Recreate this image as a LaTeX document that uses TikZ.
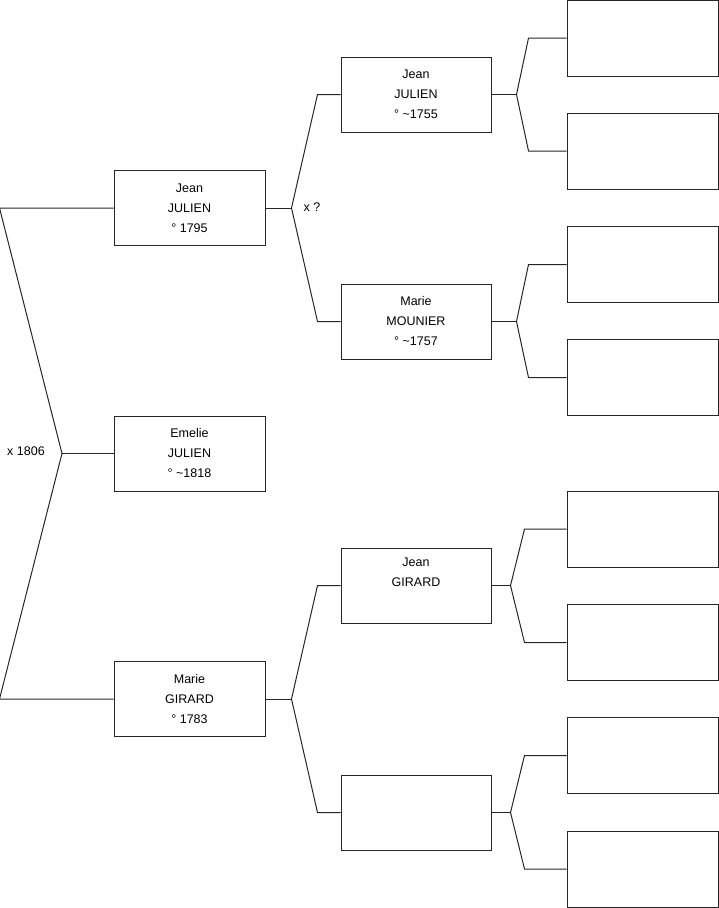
\documentclass[tikz,border=0pt]{standalone}
\usepackage{fontspec}
\setmainfont{Liberation Sans}
\usepackage{tikz}
\usetikzlibrary{positioning}
\tikzset{
  person/.style={draw=black!85,line width=1pt,fill=white,minimum width=151pt,
    minimum height=75pt,inner sep=0pt,align=center,
    font=\fontsize{12.5}{20}\selectfont},
  link/.style={draw=black!85,line width=1pt},
  wed/.style={font=\fontsize{12.5}{14}\selectfont,inner sep=0pt}
}
\begin{document}
\begin{tikzpicture}[x=1pt,y=-1pt]
  \useasboundingbox (0,0) rectangle (719,908);
  % child
  \node[person] (emelie) at (189.5,453.5) {Emelie\\JULIEN\\° \textasciitilde1818};
  % parents
  \node[person] (pere) at (189.5,208) {Jean\\JULIEN\\° 1795};
  \node[person] (mere) at (189.5,699) {Marie\\GIRARD\\° 1783};
  % grandparents
  \node[person,minimum width=150pt] (gpp) at (416,94.5) {Jean\\JULIEN\\° \textasciitilde1755};
  \node[person,minimum width=150pt] (gmp) at (416,321.5) {Marie\\MOUNIER\\° \textasciitilde1757};
  \node[person,minimum width=150pt] (gpm) at (416,585.5) {Jean\\GIRARD\\\strut};
  \node[person,minimum width=150pt] (gmm) at (416,812.5) {};
  % great-grandparents
  \foreach \i/\y in {1/38,2/151,3/264.5,4/377.5,5/529,6/642.5,7/755.5,8/869}
    \node[person,minimum height=76pt] (ag\i) at (642.5,\y) {};

  % child -> parents
  \coordinate (j0) at (62,453.5);
  \draw[link] (emelie.west) -- (j0);
  \draw[link] (pere.west) -- ++(-114,0) -- (j0) -- ([xshift=-114pt]mere.west) -- (mere.west);
  \node[wed] (w0) at (26,451) {x 1806};

  % parents -> grandparents
  \foreach \p/\a/\b in {pere/gpp/gmp, mere/gpm/gmm} {
    \coordinate (j\p) at ([xshift=26pt]\p.east);
    \draw[link] (\p.east) -- (j\p);
    \draw[link] (\a.west) -- ++(-23,0) -- (j\p) -- ([xshift=-23pt]\b.west) -- (\b.west);
  }
  \node[wed] (w1) at (312,207) {x ?};

  % grandparents -> great-grandparents
  \foreach \g/\u/\l/\d/\c in {gpp/ag1/ag2/25/38, gmp/ag3/ag4/25/38,
                              gpm/ag5/ag6/19/42, gmm/ag7/ag8/19/42} {
    \coordinate (j\g) at ([xshift=\d pt]\g.east);
    \draw[link] (\g.east) -- (j\g);
    \draw[link] (\u.west) -- ++(-\c,0) -- (j\g) -- ([xshift=-\c pt]\l.west) -- (\l.west);
  }
\end{tikzpicture}
\end{document}
